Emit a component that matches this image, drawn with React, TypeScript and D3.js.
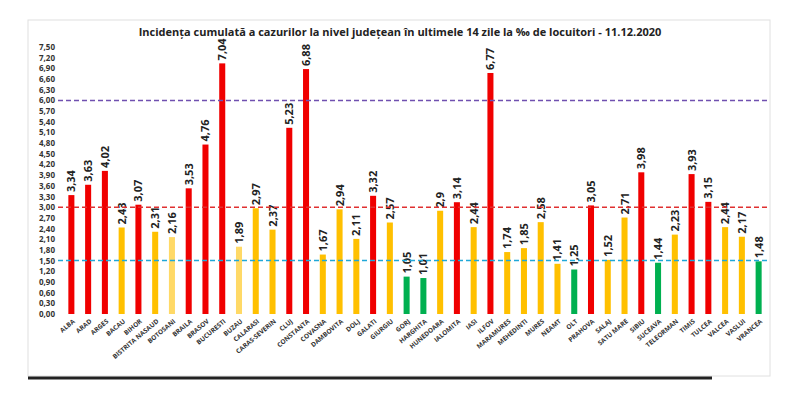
import * as d3 from "d3";

const counties = ["ALBA","ARAD","ARGES","BACAU","BIHOR","BISTRITA NASAUD","BOTOSANI","BRAILA","BRASOV","BUCURESTI","BUZAU","CALARASI","CARAS-SEVERIN","CLUJ","CONSTANTA","COVASNA","DAMBOVITA","DOLJ","GALATI","GIURGIU","GORJ","HARGHITA","HUNEDOARA","IALOMITA","IASI","ILFOV","MARAMURES","MEHEDINTI","MURES","NEAMT","OLT","PRAHOVA","SALAJ","SATU MARE","SIBIU","SUCEAVA","TELEORMAN","TIMIS","TULCEA","VALCEA","VASLUI","VRANCEA"];
const values = [3.34,3.63,4.02,2.43,3.07,2.31,2.16,3.53,4.76,7.04,1.89,2.97,2.37,5.23,6.88,1.67,2.94,2.11,3.32,2.57,1.05,1.01,2.9,3.14,2.44,6.77,1.74,1.85,2.58,1.41,1.25,3.05,1.52,2.71,3.98,1.44,2.23,3.93,3.15,2.44,2.17,1.48];
const labels = ["3,34","3,63","4,02","2,43","3,07","2,31","2,16","3,53","4,76","7,04","1,89","2,97","2,37","5,23","6,88","1,67","2,94","2,11","3,32","2,57","1,05","1,01","2,9","3,14","2,44","6,77","1,74","1,85","2,58","1,41","1,25","3,05","1,52","2,71","3,98","1,44","2,23","3,93","3,15","2,44","2,17","1,48"];
// r = red, o = orange, y = light yellow, g = green
const colorCodes = ["r","r","r","o","r","o","y","r","r","r","y","o","o","r","r","o","o","o","r","o","g","g","o","r","o","r","o","o","o","o","g","r","o","o","r","g","o","r","r","o","o","g"];
const palette: Record<string, string> = { r: "#f00000", o: "#ffc000", y: "#ffd966", g: "#00b050" };
const ticks = d3.range(0, 26).map((i) => +(i * 0.3).toFixed(2));
const refLines = [
  { v: 6.0, color: "#7050b0" },
  { v: 3.0, color: "#e03030" },
  { v: 1.5, color: "#20a8d8" },
];

export default function App() {
  const W = 800, H = 402;
  const x = d3.scaleBand<string>().domain(counties).range([65, 765]).paddingInner(0.64).paddingOuter(0.2);
  const y = d3.scaleLinear().domain([0, 7.5]).range([314, 47]);
  return (
    <svg width={W} height={H} style={{ position: "absolute", left: 0, top: 0, fontFamily: "'Open Sans', Arial, sans-serif" }}>
      <rect width={W} height={H} fill="#fff" />
      <rect x={28} y={20} width={742} height={356} fill="none" stroke="#e0e0e0" />
      <line x1={28} x2={712} y1={378} y2={378} stroke="#222" strokeWidth={3} />
      <text x={400} y={36} textAnchor="middle" fontSize={11} fontWeight="bold" fill="#222">
        Incidența cumulată a cazurilor la nivel județean în ultimele 14 zile la ‰ de locuitori - 11.12.2020
      </text>
      {ticks.map((t) => (
        <text key={t} x={55} y={y(t) + 3} textAnchor="end" fontSize={8} fontWeight="bold" fill="#333">
          {t.toFixed(2).replace(".", ",")}
        </text>
      ))}
      {counties.map((c, i) => (
        <g key={c}>
          <rect x={x(c)} y={y(values[i])} width={x.bandwidth()} height={y(0) - y(values[i])} fill={palette[colorCodes[i]]} />
          <text transform={`translate(${x(c)! + x.bandwidth() / 2 + 4},${y(values[i]) - 3}) rotate(-90)`} fontSize={11} fontWeight="bold" fill="#222">
            {labels[i]}
          </text>
          <text transform={`translate(${x(c)! + x.bandwidth() / 2 + 4},${y(0) + 8}) rotate(-40)`} textAnchor="end" fontSize={6.5} fontWeight="bold" fill="#333">
            {c}
          </text>
        </g>
      ))}
      {refLines.map((r) => (
        <line key={r.v} x1={58} x2={768} y1={y(r.v)} y2={y(r.v)} stroke={r.color} strokeWidth={1.5} strokeDasharray="5,3" />
      ))}
    </svg>
  );
}
